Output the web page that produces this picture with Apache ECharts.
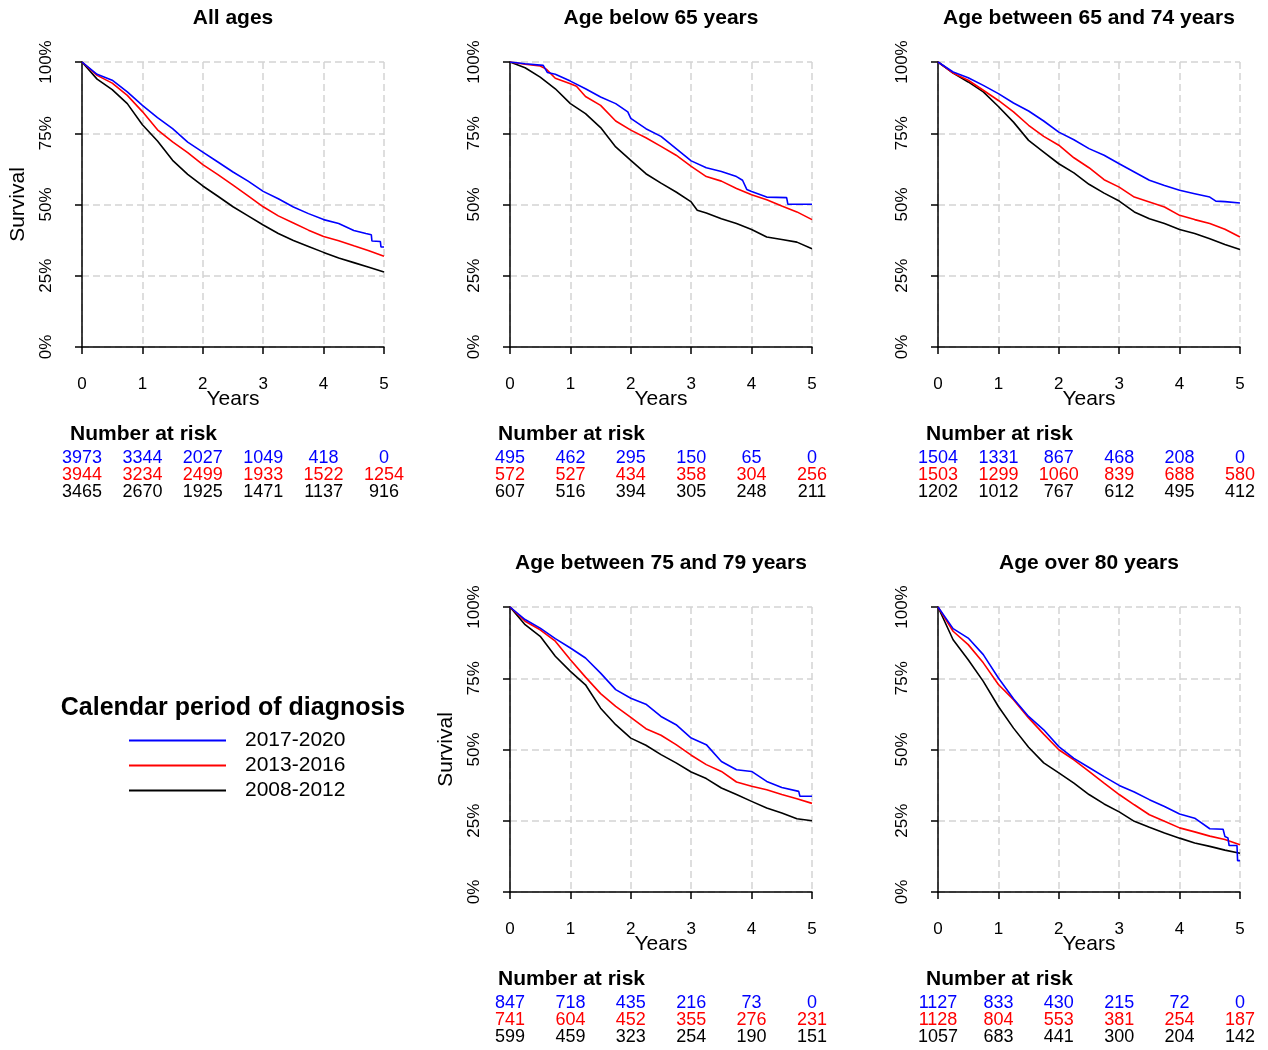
<!DOCTYPE html>
<html lang="en">
<head>
<meta charset="utf-8">
<title>Survival by calendar period of diagnosis</title>
<script src="https://cdn.jsdelivr.net/npm/echarts@6/dist/echarts.min.js"></script>
<style>
  html, body { margin: 0; padding: 0; background: #fff; }
</style>
</head>
<body>
<div id="main" style="width:1268px;height:1050px;"></div>
<script type="text/javascript">

// time points of the risk table (years)
var years = [0, 1, 2, 3, 4, 5];
var periods = ['2017-2020', '2013-2016', '2008-2012'];

// survival curves, [years, survival %]
var allBlue = [[0,100],[0.25,95.7],[0.5,93.6],[0.75,89.5],[1,84.8],[1.25,80.5],[1.5,76.6],[1.75,71.9],[2,68.4],[2.25,64.9],[2.5,61.4],[2.75,58.2],[3,54.6],[3.25,52.0],[3.5,49.1],[3.75,46.8],[4,44.7],[4.25,43.3],[4.5,40.9],[4.7,39.8],[4.79,39.4],[4.8,37.2],[4.94,37.0],[4.95,35.1],[5,35.1]];
var allRed = [[0,100],[0.25,95.3],[0.5,92.6],[0.75,88.3],[1,82.6],[1.25,76.2],[1.5,72.0],[1.75,68.2],[2,64.0],[2.25,60.5],[2.5,56.8],[2.75,53.0],[3,49.2],[3.25,46.0],[3.5,43.5],[3.75,41.0],[4,38.8],[4.25,37.3],[4.5,35.5],[4.75,33.8],[5,31.8]];
var allBlack = [[0,100],[0.25,94.0],[0.5,90.3],[0.75,85.4],[1,78.0],[1.25,72.3],[1.5,65.5],[1.75,60.6],[2,56.5],[2.25,52.9],[2.5,49.2],[2.75,46.0],[3,42.8],[3.25,39.8],[3.5,37.4],[3.75,35.3],[4,33.2],[4.25,31.2],[4.5,29.6],[4.75,28.0],[5,26.3]];

var u65Blue = [[0,100],[0.25,99.4],[0.55,98.8],[0.62,96.3],[0.75,95.7],[1,93.3],[1.25,90.6],[1.5,87.7],[1.75,85.4],[1.95,82.5],[2,80.2],[2.25,76.6],[2.5,73.9],[2.75,69.6],[3,65.3],[3.25,62.9],[3.5,61.6],[3.75,59.8],[3.85,58.5],[3.92,55.3],[4,54.6],[4.25,52.6],[4.58,52.4],[4.6,50.1],[5,50.1]];
var u65Red = [[0,100],[0.25,99.2],[0.5,98.6],[0.6,97.5],[0.75,94.3],[1,92.4],[1.1,91.5],[1.25,87.9],[1.5,84.8],[1.75,79.3],[2,76.1],[2.25,73.4],[2.5,70.4],[2.75,67.3],[3,63.4],[3.25,59.8],[3.5,58.2],[3.75,55.6],[4,53.4],[4.25,51.7],[4.5,49.5],[4.75,47.4],[5,44.7]];
var u65Black = [[0,100],[0.25,98.0],[0.5,94.7],[0.75,90.6],[1,85.4],[1.25,81.9],[1.5,77.0],[1.75,70.2],[2,65.5],[2.25,60.8],[2.5,57.5],[2.75,54.4],[3,50.9],[3.1,48.0],[3.25,47.0],[3.5,45.0],[3.75,43.3],[4,41.2],[4.25,38.6],[4.5,37.7],[4.75,36.8],[5,34.5]];

var a6574Blue = [[0,100],[0.25,96.5],[0.5,94.5],[0.75,91.8],[1,88.9],[1.25,85.6],[1.5,82.8],[1.75,79.3],[2,75.4],[2.25,72.7],[2.5,69.6],[2.75,67.3],[3,64.3],[3.25,61.4],[3.5,58.5],[3.75,56.7],[4,55.0],[4.25,53.8],[4.5,52.6],[4.6,51.2],[4.75,51.0],[4.78,50.5],[5,50.5]];
var a6574Red = [[0,100],[0.25,96.1],[0.5,93.6],[0.75,90.1],[1,86.5],[1.25,82.5],[1.5,77.8],[1.75,73.9],[2,70.8],[2.25,66.4],[2.5,62.9],[2.75,58.7],[3,56.1],[3.25,52.6],[3.5,50.9],[3.75,49.1],[4,46.2],[4.25,44.7],[4.5,43.3],[4.75,41.3],[5,38.6]];
var a6574Black = [[0,100],[0.25,96.1],[0.5,93.0],[0.75,89.5],[1,84.4],[1.25,78.9],[1.5,72.5],[1.75,68.4],[2,64.3],[2.25,61.1],[2.5,57.1],[2.75,54.0],[3,51.2],[3.25,47.4],[3.5,45.0],[3.75,43.3],[4,41.2],[4.25,39.8],[4.5,38.0],[4.75,36.0],[5,34.2]];

var a7579Blue = [[0,100],[0.25,95.6],[0.5,92.6],[0.75,88.9],[1,85.6],[1.25,82.1],[1.5,76.8],[1.75,71.0],[2,68.0],[2.25,65.9],[2.5,61.6],[2.75,58.7],[3,54.0],[3.25,51.7],[3.5,45.8],[3.75,42.9],[4,42.3],[4.25,38.8],[4.5,36.7],[4.78,35.3],[4.8,33.6],[5,33.6]];
var a7579Red = [[0,100],[0.25,95.0],[0.5,92.0],[0.75,88.0],[1,81.5],[1.25,75.4],[1.5,69.6],[1.75,65.1],[2,61.3],[2.25,57.3],[2.5,55.0],[2.75,51.7],[3,48.0],[3.25,44.7],[3.5,42.3],[3.75,38.6],[4,37.1],[4.25,35.9],[4.5,34.2],[4.75,32.7],[5,31.1]];
var a7579Black = [[0,100],[0.25,93.8],[0.5,89.7],[0.75,82.7],[1,77.4],[1.25,72.7],[1.5,64.5],[1.75,58.7],[2,54.0],[2.25,51.5],[2.5,48.2],[2.75,45.3],[3,42.1],[3.25,39.8],[3.5,36.5],[3.75,34.2],[4,31.8],[4.25,29.5],[4.5,27.7],[4.75,25.7],[5,25.0]];

var o80Blue = [[0,100],[0.25,92.4],[0.5,89.1],[0.75,83.3],[1,75.1],[1.25,67.8],[1.5,61.6],[1.75,56.9],[2,51.0],[2.25,46.9],[2.5,43.7],[2.75,40.5],[3,37.4],[3.25,35.1],[3.5,32.4],[3.75,30.0],[4,27.4],[4.25,25.9],[4.5,22.2],[4.72,22.0],[4.75,19.5],[4.8,19.0],[4.82,16.3],[4.95,16.3],[4.96,11.0],[5,11.0]];
var o80Red = [[0,100],[0.25,91.5],[0.5,86.8],[0.75,80.4],[1,72.8],[1.25,67.5],[1.5,61.1],[1.75,55.4],[2,49.9],[2.25,46.4],[2.5,42.3],[2.75,38.2],[3,34.2],[3.25,30.6],[3.5,27.1],[3.75,24.8],[4,22.5],[4.25,21.1],[4.5,19.6],[4.75,18.4],[5,16.6]];
var o80Black = [[0,100],[0.25,88.5],[0.5,81.5],[0.75,73.9],[1,65.1],[1.25,57.5],[1.5,50.8],[1.75,45.3],[2,41.8],[2.25,38.2],[2.5,34.2],[2.75,30.9],[3,28.1],[3.25,24.8],[3.5,22.7],[3.75,20.7],[4,18.9],[4.25,17.2],[4.5,16.0],[4.75,14.7],[5,13.6]];

// number at risk at years 0..5
var riskAllBlue = [3973, 3344, 2027, 1049, 418, 0];
var riskAllRed = [3944, 3234, 2499, 1933, 1522, 1254];
var riskAllBlack = [3465, 2670, 1925, 1471, 1137, 916];
var riskU65Blue = [495, 462, 295, 150, 65, 0];
var riskU65Red = [572, 527, 434, 358, 304, 256];
var riskU65Black = [607, 516, 394, 305, 248, 211];
var risk6574Blue = [1504, 1331, 867, 468, 208, 0];
var risk6574Red = [1503, 1299, 1060, 839, 688, 580];
var risk6574Black = [1202, 1012, 767, 612, 495, 412];
var risk7579Blue = [847, 718, 435, 216, 73, 0];
var risk7579Red = [741, 604, 452, 355, 276, 231];
var risk7579Black = [599, 459, 323, 254, 190, 151];
var risk80Blue = [1127, 833, 430, 215, 72, 0];
var risk80Red = [1128, 804, 553, 381, 254, 187];
var risk80Black = [1057, 683, 441, 300, 204, 142];

var colors = ['#0000ff', '#ff0000', '#000000'];
var font = 'Liberation Sans, Arial, Helvetica, sans-serif';

var panels = [
    { title: 'All ages', left: 82, top: 62, curves: [allBlue, allRed, allBlack], risk: [riskAllBlue, riskAllRed, riskAllBlack], ylab: true },
    { title: 'Age below 65 years', left: 510, top: 62, curves: [u65Blue, u65Red, u65Black], risk: [riskU65Blue, riskU65Red, riskU65Black], ylab: false },
    { title: 'Age between 65 and 74 years', left: 938, top: 62, curves: [a6574Blue, a6574Red, a6574Black], risk: [risk6574Blue, risk6574Red, risk6574Black], ylab: false },
    { title: 'Age between 75 and 79 years', left: 510, top: 607, curves: [a7579Blue, a7579Red, a7579Black], risk: [risk7579Blue, risk7579Red, risk7579Black], ylab: true },
    { title: 'Age over 80 years', left: 938, top: 607, curves: [o80Blue, o80Red, o80Black], risk: [risk80Blue, risk80Red, risk80Black], ylab: false }
];

var W = 302, H = 285;
var grids = [], xAxes = [], yAxes = [], series = [], titles = [];
var gridLine = { show: true, lineStyle: { color: '#d3d3d3', type: [7, 4], width: 1.5 } };
var axisLine = { show: true, lineStyle: { color: '#000', width: 1.5 } };

panels.forEach(function (p, i) {
    var g = i * 2;
    // survival plot
    grids.push({ left: p.left, top: p.top, width: W, height: H });
    xAxes.push({
        gridIndex: g, type: 'value', min: 0, max: 5, interval: 1, offset: 11,
        name: 'Years', nameLocation: 'middle', nameGap: 31, nameMoveOverlap: false,
        nameTextStyle: { fontSize: 21, color: '#000', fontFamily: font },
        axisLine: axisLine,
        axisTick: { show: true, length: 7, lineStyle: { color: '#000', width: 1.5 } },
        axisLabel: { fontSize: 17, color: '#000', margin: 18, fontFamily: font },
        splitLine: gridLine
    });
    yAxes.push({
        gridIndex: g, type: 'value', min: 0, max: 100, interval: 25, offset: 12,
        name: p.ylab ? 'Survival' : '', nameLocation: 'middle', nameGap: 41, nameMoveOverlap: false,
        nameTextStyle: { fontSize: 21, color: '#000', fontFamily: font },
        axisLine: axisLine,
        axisTick: { show: true, length: 7, lineStyle: { color: '#000', width: 1.5 } },
        axisLabel: { fontSize: 17, color: '#000', margin: 15, rotate: 90, formatter: '{value}%', fontFamily: font },
        splitLine: gridLine
    });
    // black drawn first, blue on top
    [2, 1, 0].forEach(function (k) {
        series.push({
            name: periods[k], type: 'line', xAxisIndex: g, yAxisIndex: g,
            data: p.curves[k], showSymbol: false, symbol: 'none', silent: true,
            lineStyle: { color: colors[k], width: 1.6 }, itemStyle: { color: colors[k] },
            z: 3 + (2 - k)
        });
    });

    // number at risk table
    grids.push({ left: p.left, top: p.top + 388, width: W, height: 51 });
    xAxes.push({ gridIndex: g + 1, type: 'value', min: 0, max: 5, show: false });
    yAxes.push({ gridIndex: g + 1, type: 'category', data: periods.slice().reverse(), show: false });
    [0, 1, 2].forEach(function (k) {
        series.push({
            name: 'risk ' + periods[k], type: 'scatter', xAxisIndex: g + 1, yAxisIndex: g + 1,
            symbolSize: 0, silent: true, itemStyle: { opacity: 1, color: colors[k] },
            data: years.map(function (t, j) { return [t, periods[k], p.risk[k][j]]; }),
            label: {
                show: true, position: 'inside', color: colors[k], opacity: 1, fontSize: 18, fontFamily: font,
                formatter: function (d) { return d.value[2]; }
            }
        });
    });

    titles.push({
        text: p.title, left: p.left + W / 2, top: p.top - 54, textAlign: 'center', padding: 0,
        textStyle: { fontSize: 21, fontWeight: 'bold', color: '#000', fontFamily: font }
    });
    titles.push({
        text: 'Number at risk', left: p.left - 12, top: p.top + 362, padding: 0,
        textStyle: { fontSize: 21, fontWeight: 'bold', color: '#000', fontFamily: font }
    });
});

titles.push({
    text: 'Calendar period of diagnosis', left: 233, top: 696, textAlign: 'center', padding: 0,
    textStyle: { fontSize: 25, fontWeight: 'bold', color: '#000', fontFamily: font }
});

var myChart = echarts.init(document.getElementById('main'));
myChart.setOption({
    animation: false,
    backgroundColor: '#fff',
    title: titles,
    legend: {
        data: periods, orient: 'vertical', left: 129, top: 730, padding: 0,
        icon: 'rect', itemWidth: 97, itemHeight: 2, itemGap: 4, selectedMode: false,
        textStyle: { fontSize: 21, color: '#000', fontFamily: font, padding: [0, 0, 0, 14] }
    },
    grid: grids,
    xAxis: xAxes,
    yAxis: yAxes,
    series: series
});
</script>
</body>
</html>
